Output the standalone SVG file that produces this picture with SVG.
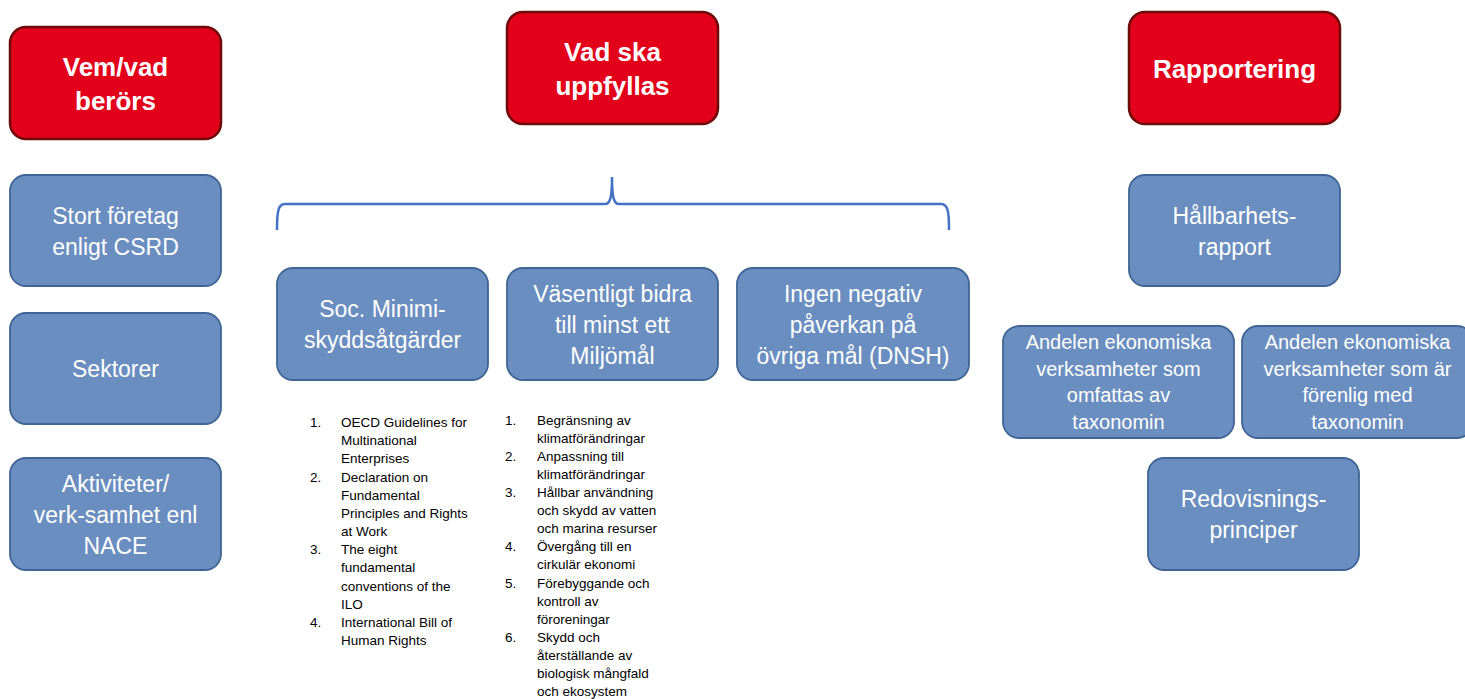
<svg xmlns="http://www.w3.org/2000/svg" width="1465" height="699" viewBox="0 0 1465 699">
<style>
.red rect{fill:#E2001A;stroke:#6E0A0A;stroke-width:2.5}
.blue rect{fill:#6A8EBF;stroke:#3F6496;stroke-width:1.8}
.ht{font-family:"Liberation Sans",Arial,sans-serif;font-weight:bold;font-size:26px;fill:#fff;text-anchor:middle}
.bt{font-family:"Liberation Sans",Arial,sans-serif;font-size:23px;fill:#fff;text-anchor:middle}
.st{font-family:"Liberation Sans",Arial,sans-serif;font-size:20px;fill:#fff;text-anchor:middle}
.lt{font-family:"Liberation Sans",Arial,sans-serif;font-size:13.5px;fill:#000}
.brace{fill:none;stroke:#4472C4;stroke-width:2.5}
</style>
<rect width="1465" height="699" fill="#fff"/>
<g id="h1" class="red"><rect x="10" y="27" width="211" height="112" rx="16"/><text class="ht" x="115.5" y="76">Vem/vad</text><text class="ht" x="115.5" y="110">berörs</text></g>
<g id="h2" class="red"><rect x="507" y="12" width="211" height="112" rx="16"/><text class="ht" x="612.5" y="61">Vad ska</text><text class="ht" x="612.5" y="95">uppfyllas</text></g>
<g id="h3" class="red"><rect x="1129" y="12" width="211" height="112" rx="16"/><text class="ht" x="1234.5" y="78">Rapportering</text></g>

<g id="n_csrd" class="blue"><rect x="10" y="175" width="211" height="111" rx="16"/><text class="bt" x="115.5" y="224">Stort företag</text><text class="bt" x="115.5" y="255">enligt CSRD</text></g>
<g id="n_sektorer" class="blue"><rect x="10" y="313" width="211" height="111" rx="16"/><text class="bt" x="115.5" y="377">Sektorer</text></g>
<g id="n_nace" class="blue"><rect x="10" y="458" width="211" height="112" rx="16"/><text class="bt" x="115.5" y="492">Aktiviteter/</text><text class="bt" x="115.5" y="523">verk-samhet enl</text><text class="bt" x="115.5" y="554">NACE</text></g>

<g id="n_soc" class="blue"><rect x="277" y="268" width="211" height="112" rx="16"/><text class="bt" x="382.5" y="317">Soc. Minimi-</text><text class="bt" x="382.5" y="348">skyddsåtgärder</text></g>
<g id="n_bidra" class="blue"><rect x="507" y="268" width="211" height="112" rx="16"/><text class="bt" x="612.5" y="302">Väsentligt bidra</text><text class="bt" x="612.5" y="333">till minst ett</text><text class="bt" x="612.5" y="364">Miljömål</text></g>
<g id="n_dnsh" class="blue"><rect x="737" y="268" width="232" height="112" rx="16"/><text class="bt" x="853" y="302">Ingen negativ</text><text class="bt" x="853" y="333">påverkan på</text><text class="bt" x="853" y="364">övriga mål (DNSH)</text></g>

<g id="n_rapport" class="blue"><rect x="1129" y="175" width="211" height="111" rx="16"/><text class="bt" x="1234.5" y="224">Hållbarhets-</text><text class="bt" x="1234.5" y="255">rapport</text></g>
<g id="n_omfattas" class="blue"><rect x="1003" y="326" width="231" height="112" rx="16"/><text class="st" x="1118.5" y="349">Andelen ekonomiska</text><text class="st" x="1118.5" y="376">verksamheter som</text><text class="st" x="1118.5" y="402">omfattas av</text><text class="st" x="1118.5" y="429">taxonomin</text></g>
<g id="n_forenlig" class="blue"><rect x="1242" y="326" width="231" height="112" rx="16"/><text class="st" x="1357.5" y="349">Andelen ekonomiska</text><text class="st" x="1357.5" y="376">verksamheter som är</text><text class="st" x="1357.5" y="402">förenlig med</text><text class="st" x="1357.5" y="429">taxonomin</text></g>
<g id="n_redovis" class="blue"><rect x="1148" y="458" width="211" height="112" rx="16"/><text class="bt" x="1253.5" y="507">Redovisnings-</text><text class="bt" x="1253.5" y="538">principer</text></g>

<g id="connectors">
<path class="brace" d="M277,230 C277,212 278,204 285,204 L605,204 C610,204 612,198 612,177 C612,198 614,204 619,204 L941,204 C948,204 949,212 949,230"/>
</g>

<g id="list_soc" class="lt">
<text x="310" y="427">1.</text><text x="341" y="427">OECD Guidelines for</text>
<text x="341" y="445">Multinational</text>
<text x="341" y="463">Enterprises</text>
<text x="310" y="482">2.</text><text x="341" y="482">Declaration on</text>
<text x="341" y="500">Fundamental</text>
<text x="341" y="518">Principles and Rights</text>
<text x="341" y="536">at Work</text>
<text x="310" y="554">3.</text><text x="341" y="554">The eight</text>
<text x="341" y="572">fundamental</text>
<text x="341" y="591">conventions of the</text>
<text x="341" y="609">ILO</text>
<text x="310" y="627">4.</text><text x="341" y="627">International Bill of</text>
<text x="341" y="645">Human Rights</text>
</g>

<g id="list_mal" class="lt">
<text x="505" y="425">1.</text><text x="537" y="425">Begränsning av</text>
<text x="537" y="443">klimatförändringar</text>
<text x="505" y="461">2.</text><text x="537" y="461">Anpassning till</text>
<text x="537" y="479">klimatförändringar</text>
<text x="505" y="497">3.</text><text x="537" y="497">Hållbar användning</text>
<text x="537" y="515">och skydd av vatten</text>
<text x="537" y="533">och marina resurser</text>
<text x="505" y="551">4.</text><text x="537" y="551">Övergång till en</text>
<text x="537" y="569">cirkulär ekonomi</text>
<text x="505" y="588">5.</text><text x="537" y="588">Förebyggande och</text>
<text x="537" y="606">kontroll av</text>
<text x="537" y="624">föroreningar</text>
<text x="505" y="642">6.</text><text x="537" y="642">Skydd och</text>
<text x="537" y="660">återställande av</text>
<text x="537" y="678">biologisk mångfald</text>
<text x="537" y="696">och ekosystem</text>
</g>
</svg>
